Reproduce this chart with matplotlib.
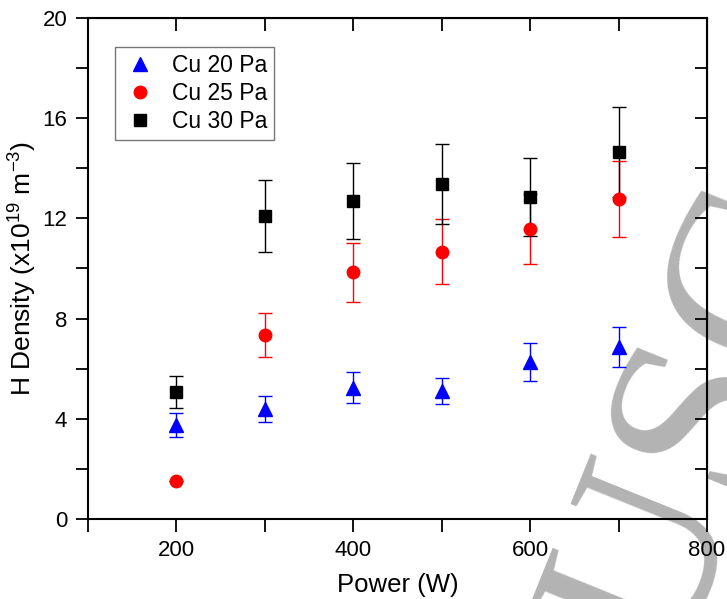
import matplotlib.pyplot as plt
from matplotlib.ticker import MultipleLocator

plt.rcParams['font.family'] = ['Liberation Sans', 'DejaVu Sans']
plt.rcParams['mathtext.fontset'] = 'custom'
plt.rcParams['mathtext.rm'] = 'Liberation Sans'

power = [200, 300, 400, 500, 600, 700]

cu20 = [3.75, 4.39, 5.23, 5.1, 6.27, 6.87]
cu20_err = [0.48, 0.53, 0.62, 0.52, 0.75, 0.8]

cu25 = [1.52, 7.35, 9.85, 10.67, 11.58, 12.77]
cu25_err = [0.0, 0.87, 1.18, 1.3, 1.4, 1.52]

cu30 = [5.07, 12.1, 12.69, 13.37, 12.85, 14.65]
cu30_err = [0.63, 1.45, 1.53, 1.6, 1.55, 1.78]

fig = plt.figure(figsize=(7.27, 5.99), dpi=100)
ax = fig.add_axes([0.121, 0.1336, 0.8515, 0.8364])
ax.patch.set_alpha(0)

ax.errorbar(power, cu20, yerr=cu20_err, fmt='^', color='blue', ms=10,
            elinewidth=1, capsize=5, capthick=1, label='Cu 20 Pa')
ax.errorbar(power, cu25, yerr=cu25_err, fmt='o', color='red', ms=9,
            elinewidth=1, capsize=5, capthick=1, label='Cu 25 Pa')
ax.errorbar(power, cu30, yerr=cu30_err, fmt='s', color='black', ms=8,
            elinewidth=1, capsize=5, capthick=1, label='Cu 30 Pa')

ax.set_xlim(100, 800)
ax.set_ylim(0, 20)
ax.xaxis.set_major_locator(MultipleLocator(200))
ax.xaxis.set_minor_locator(MultipleLocator(100))
ax.yaxis.set_major_locator(MultipleLocator(4))
ax.yaxis.set_minor_locator(MultipleLocator(2))
ax.tick_params(which='both', direction='out', length=9, width=1.3,
               labelsize=16, pad=6, top=False, right=False)

# mirrored ticks on top and right, pointing inward, no labels
top = ax.secondary_xaxis('top')
top.xaxis.set_major_locator(MultipleLocator(100))
top.tick_params(direction='in', length=9, width=1.3)
top.set_xticklabels([])
right = ax.secondary_yaxis('right')
right.yaxis.set_major_locator(MultipleLocator(2))
right.tick_params(direction='in', length=9, width=1.3)
right.set_yticklabels([])

for sp in ax.spines.values():
    sp.set_linewidth(1.5)

ax.set_xlabel('Power (W)', fontsize=18.5, labelpad=9)
ax.set_ylabel('H Density (x10$^{19}$ m$^{-3}$)', fontsize=19, labelpad=3)

# legend without error bars
handles, labels = ax.get_legend_handles_labels()
handles = [h[0] for h in handles]
leg = ax.legend(handles, labels, loc='upper left', bbox_to_anchor=(0.0436, 0.942),
                borderaxespad=0, fontsize=16.5, fancybox=False, edgecolor='#555555',
                handletextpad=0.6, borderpad=0.3, labelspacing=0.22,
                handlelength=1.6)
leg.get_frame().set_linewidth(1)

# watermark behind the plot
fig.text(0.972, 0.29, 'USC', fontsize=175, family='Liberation Serif',
         color='#b3b3b3', rotation=68, rotation_mode='anchor',
         ha='center', va='center', zorder=-1)

fig.savefig('out.png')
